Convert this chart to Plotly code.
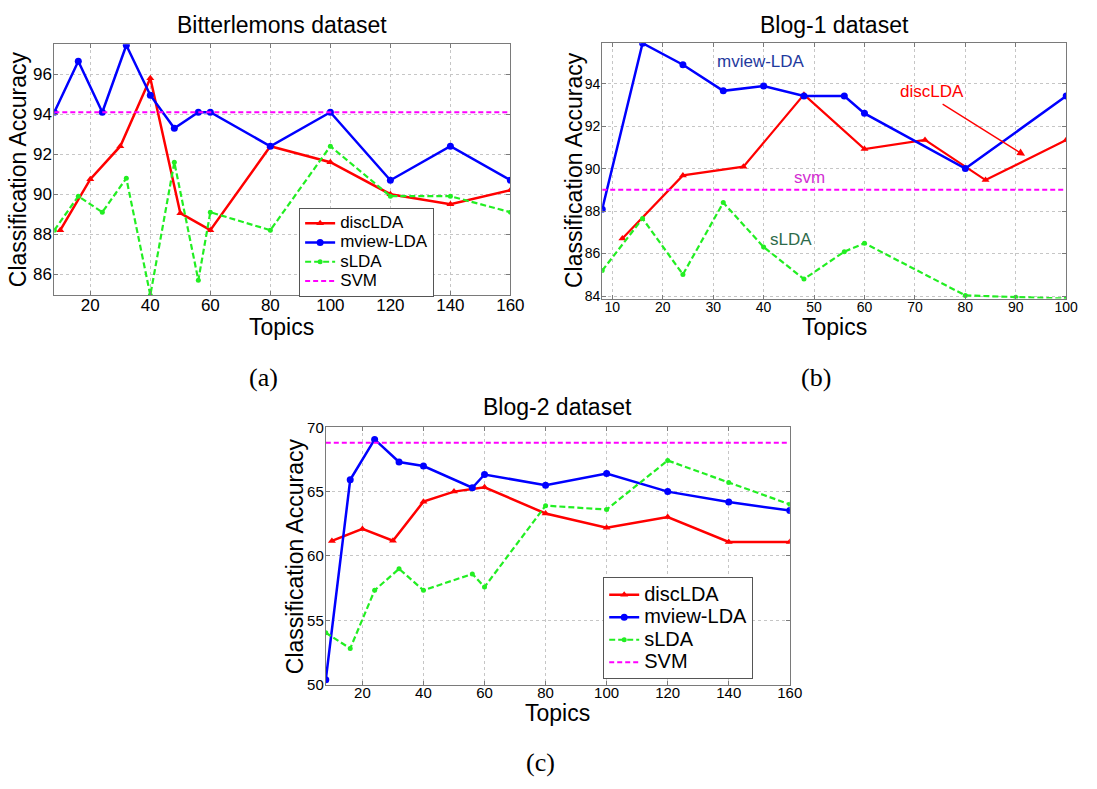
import plotly.graph_objects as go

W, H = 1097, 789
FONT = "Liberation Sans, Arial, sans-serif"
SERIF = "Liberation Serif, DejaVu Serif, serif"

# ---------------- data ----------------
# (a) Bitterlemons dataset
a_disc_x = [10, 20, 30, 40, 50, 60, 80, 100, 120, 140, 160]
a_disc_y = [88.2, 90.75, 92.4, 95.8, 89.05, 88.2, 92.4, 91.6, 90.0, 89.5, 90.2]
a_mview_x = [8, 16, 24, 32, 40, 48, 56, 60, 80, 100, 120, 140, 160]
a_mview_y = [94.1, 96.65, 94.1, 97.45, 94.95, 93.3, 94.1, 94.1, 92.4, 94.1, 90.7, 92.4, 90.7]
a_slda_x = [8, 16, 24, 32, 40, 48, 56, 60, 80, 100, 120, 140, 160]
a_slda_y = [88.2, 89.9, 89.1, 90.8, 84.95, 91.6, 85.7, 89.1, 88.2, 92.4, 89.9, 89.9, 89.1]
a_svm = 94.1

# (b) Blog-1 dataset
b_mview_x = [8, 16, 24, 32, 40, 48, 56, 60, 80, 100]
b_mview_y = [88.09, 95.9, 94.89, 93.66, 93.89, 93.42, 93.42, 92.6, 90.0, 93.42]
b_disc_x = [12, 24, 36, 48, 60, 72, 84, 100]
b_disc_y = [86.71, 89.68, 90.09, 93.48, 90.92, 91.35, 89.46, 91.35]
b_slda_x = [8, 16, 24, 32, 40, 48, 56, 60, 80, 90, 100]
b_slda_y = [85.2, 87.65, 85.02, 88.4, 86.31, 84.8, 86.09, 86.49, 84.03, 83.95, 83.88]
b_svm = 89.0

# (c) Blog-2 dataset
c_disc_x = [10, 20, 30, 40, 50, 60, 80, 100, 120, 140, 160]
c_disc_y = [61.17, 62.1, 61.19, 64.22, 65.0, 65.34, 63.3, 62.19, 63.02, 61.09, 61.09]
c_mview_x = [8, 16, 24, 32, 40, 56, 60, 80, 100, 120, 140, 160]
c_mview_y = [50.38, 65.92, 69.06, 67.3, 66.99, 65.3, 66.33, 65.5, 66.4, 65.0, 64.19, 63.53]
c_slda_x = [8, 16, 24, 32, 40, 56, 60, 80, 100, 120, 140, 160]
c_slda_y = [54.03, 52.81, 57.33, 59.0, 57.33, 58.6, 57.59, 63.91, 63.61, 67.42, 65.71, 64.01]
c_svm = 68.8

series_names = ["discLDA", "mview-LDA", "sLDA", "SVM"]

a_xticks = [20, 40, 60, 80, 100, 120, 140, 160]
a_yticks = [86, 88, 90, 92, 94, 96]
b_xticks = [10, 20, 30, 40, 50, 60, 70, 80, 90, 100]
b_yticks = [84, 86, 88, 90, 92, 94]
c_xticks = [20, 40, 60, 80, 100, 120, 140, 160]
c_yticks = [50, 55, 60, 65, 70]

RED, BLUE, GREEN, MAG = "#ff0000", "#0000ff", "#22ee22", "#ff00ff"


def px(x):
    return x / W


def py(y):
    return 1 - y / H


fig = go.Figure()


def add_panel(xa, ya, disc, mview, slda, svm, legend, showlegend, name_px, lw=2.5, dw=2.5):
    xs_all = mview[0] + slda[0] + disc[0]
    xmin, xmax = min(xs_all), max(xs_all)
    nm = [f'<span style="font-size:{name_px}px">{n}</span>' for n in series_names]
    fig.add_trace(go.Scatter(x=disc[0], y=disc[1], name=nm[0], mode="lines+markers",
                             line=dict(color=RED, width=dw),
                             marker=dict(symbol="triangle-up", size=7, color=RED),
                             xaxis=xa, yaxis=ya, legend=legend, showlegend=showlegend))
    fig.add_trace(go.Scatter(x=mview[0], y=mview[1], name=nm[1], mode="lines+markers",
                             line=dict(color=BLUE, width=lw),
                             marker=dict(symbol="circle", size=7, color=BLUE),
                             xaxis=xa, yaxis=ya, legend=legend, showlegend=showlegend))
    fig.add_trace(go.Scatter(x=slda[0], y=slda[1], name=nm[2], mode="lines+markers",
                             line=dict(color=GREEN, width=2.2, dash="6px,3px"),
                             marker=dict(symbol="circle", size=5, color=GREEN),
                             xaxis=xa, yaxis=ya, legend=legend, showlegend=showlegend))
    fig.add_trace(go.Scatter(x=[xmin, xmax], y=[svm, svm], name=nm[3], mode="lines",
                             line=dict(color=MAG, width=2, dash="5px,3px"),
                             xaxis=xa, yaxis=ya, legend=legend, showlegend=showlegend))


add_panel("x", "y", (a_disc_x, a_disc_y), (a_mview_x, a_mview_y), (a_slda_x, a_slda_y),
          a_svm, "legend", True, 17)
add_panel("x2", "y2", (b_disc_x, b_disc_y), (b_mview_x, b_mview_y), (b_slda_x, b_slda_y),
          b_svm, "legend", False, 17, lw=2.5, dw=2.2)
add_panel("x3", "y3", (c_disc_x, c_disc_y), (c_mview_x, c_mview_y), (c_slda_x, c_slda_y),
          c_svm, "legend2", True, 20)


def axis(domain, rng, ticks, size, anchor, standoff):
    return dict(domain=domain, range=rng, tickvals=ticks, anchor=anchor,
                showline=True, linecolor="#7a7a7a", linewidth=1, mirror="ticks",
                ticks="inside", ticklen=4, tickcolor="#7a7a7a",
                showgrid=True, gridcolor="#c6c6c6", griddash="dot", gridwidth=1,
                zeroline=False, ticklabelstandoff=standoff,
                tickfont=dict(size=size, color="black", family=FONT))


# plot area pixel boxes
A = (55, 517, 36, 292.5)
B = (610, 1080, 35, 296)
C = (330, 800, 427.5, 690.5)

fig.update_layout(
    width=W, height=H, margin=dict(l=0, r=0, t=0, b=0),
    paper_bgcolor="white", plot_bgcolor="white",
    font=dict(family=FONT, color="black"),
    xaxis=axis([px(A[0]), px(A[1])], [8, 160], a_xticks, 17, "y", -6),
    yaxis=axis([py(A[3]), py(A[2])], [84.95, 97.5], a_yticks, 17, "x", -2),
    xaxis2=axis([px(B[0]), px(B[1])], [8, 100], b_xticks, 14, "y2", -4),
    yaxis2=axis([py(B[3]), py(B[2])], [83.88, 95.9], b_yticks, 14, "x2", -2),
    xaxis3=axis([px(C[0]), px(C[1])], [8, 160], c_xticks, 15, "y3", -6),
    yaxis3=axis([py(C[3]), py(C[2])], [50, 70], c_yticks, 15, "x3", -2),
    legend=dict(x=px(303), y=py(203), xanchor="left", yanchor="top",
                bgcolor="white", bordercolor="#555555", borderwidth=1,
                font=dict(size=12.5, family=FONT, color="black"), itemwidth=30,
                tracegroupgap=0),
    legend2=dict(x=px(611), y=py(581), xanchor="left", yanchor="top",
                 bgcolor="white", bordercolor="#555555", borderwidth=1,
                 font=dict(size=15, family=FONT, color="black"), itemwidth=30,
                 tracegroupgap=0),
)

ann = []


def text(x, y, s, size, family=FONT, angle=0, color="black"):
    ann.append(dict(x=px(x), y=py(y), xref="paper", yref="paper", text=s, showarrow=False,
                    xanchor="center", yanchor="middle", textangle=angle,
                    font=dict(size=size, family=family, color=color)))


# titles
text(286, 16, "Bitterlemons dataset", 23)
text(845, 16, "Blog-1 dataset", 23)
text(565, 407, "Blog-2 dataset", 23)
# axis titles
text(285.5, 325, "Topics", 23)
text(845, 325, "Topics", 23)
text(565, 720, "Topics", 23)
text(19, 164, "Classification Accuracy", 23, angle=-90)
text(582, 165, "Classification Accuracy", 23, angle=-90)
text(299, 559, "Classification Accuracy", 23, angle=-90)
# panel labels
text(267, 377, "(a)", 26, family=SERIF)
text(827, 377, "(b)", 26, family=SERIF)
text(547, 770, "(c)", 26, family=SERIF)

# in-plot labels for (b)
ann.append(dict(x=39.5, y=95.03, xref="x2", yref="y2", text="mview-LDA", showarrow=False,
                font=dict(size=17, family=FONT, color="#1f3a9e")))
ann.append(dict(x=73.4, y=93.62, xref="x2", yref="y2", text="discLDA", showarrow=False,
                font=dict(size=17, family=FONT, color="#ff0000")))
ann.append(dict(x=49.1, y=89.57, xref="x2", yref="y2", text="svm", showarrow=False,
                font=dict(size=17, family=FONT, color="#d22fd2")))
ann.append(dict(x=45.4, y=86.65, xref="x2", yref="y2", text="sLDA", showarrow=False,
                font=dict(size=17, family=FONT, color="#2e6b4b")))
ann.append(dict(x=91.85, y=90.6, xref="x2", yref="y2", ax=75.2, ay=93.08,
                axref="x2", ayref="y2", text="", showarrow=True,
                arrowhead=2, arrowsize=1.2, arrowwidth=1.3, arrowcolor="#ff0000"))

fig.update_layout(annotations=ann)
fig.write_html("out.html")
